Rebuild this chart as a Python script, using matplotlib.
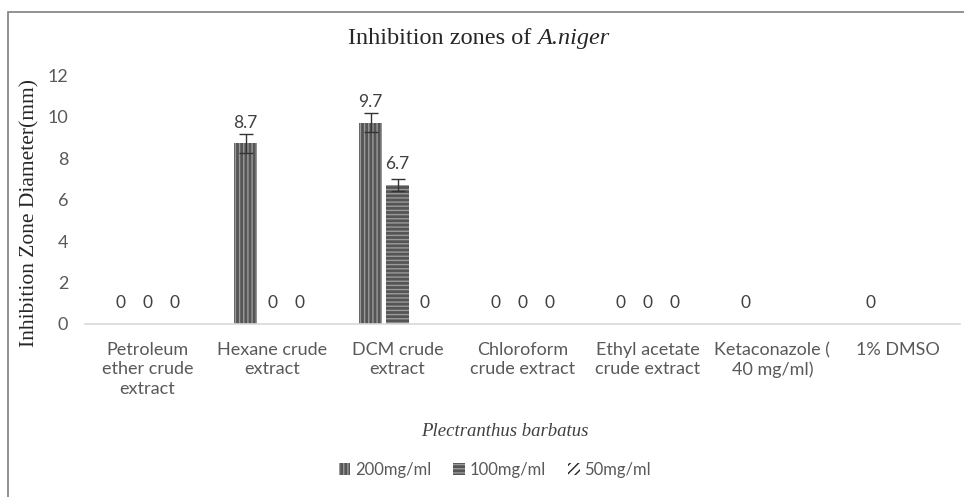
import numpy as np
import matplotlib
matplotlib.use("Agg")
import matplotlib.pyplot as plt
from matplotlib.patches import Rectangle

categories = ["Petroleum\nether crude\nextract", "Hexane crude\nextract", "DCM crude\nextract",
              "Chloroform\ncrude extract", "Ethyl acetate\ncrude extract", "Ketaconazole (\n40 mg/ml)",
              "1% DMSO"]
series_names = ["200mg/ml", "100mg/ml", "50mg/ml"]
v200 = [0, 8.7, 9.7, 0, 0, 0, 0]
v100 = [0, 0, 6.7, 0, 0, np.nan, np.nan]
v50 = [0, 0, 0, 0, 0, np.nan, np.nan]
e200 = [0, 0.45, 0.45, 0, 0, 0, 0]
e100 = [0, 0, 0.3, 0, 0, 0, 0]
e50 = [0, 0, 0, 0, 0, 0, 0]
yticks = [0, 2, 4, 6, 8, 10, 12]

W, H = 964, 497
fig = plt.figure(figsize=(W / 100, H / 100), dpi=100)
ax = fig.add_axes([85 / W, 1 - 324 / H, (960 - 85) / W, (324 - 75) / H])

# outer frame
fig.patches.append(Rectangle((8 / W, -0.1), 1.2, 1 - 12 / H + 0.1, transform=fig.transFigure,
                             fill=False, edgecolor="#7f7f7f", linewidth=1.2))

x = np.arange(len(categories))
step = 0.216
width = 0.186
styles = [
    dict(facecolor="#555555", edgecolor="#9a9a9a", hatch="||||"),
    dict(facecolor="#555555", edgecolor="#9a9a9a", hatch="----"),
    dict(facecolor="white", edgecolor="#222222", hatch="////"),
]
vals = [v200, v100, v50]
errs = [e200, e100, e50]
handles = []
for i, (v, e, st) in enumerate(zip(vals, errs, styles)):
    pos = x + (i - 1) * step
    arr = np.array(v, dtype=float)
    b = ax.bar(pos, np.nan_to_num(arr), width, linewidth=0, **st)
    handles.append(b)
    for p, val, err in zip(pos, arr, e):
        if np.isnan(val):
            continue
        if val > 0:
            ax.errorbar(p, val, yerr=err, fmt="none", ecolor="#333333", elinewidth=1, capsize=5, capthick=1)
        ax.text(p, val + 1.0, f"{val:g}" if val == 0 else f"{val:.1f}", ha="center", va="center",
                fontsize=12.5, color="#404040", family="Lato")

ax.set_xlim(-0.5, len(categories) - 0.5)
ax.set_ylim(0, 12)
ax.set_yticks(yticks)
ax.set_xticks(x)
ax.set_xticklabels(categories, fontsize=13, color="#595959", family="Lato", linespacing=1.25)
ax.tick_params(axis="y", labelsize=13, labelcolor="#595959", length=0, pad=12)
ax.tick_params(axis="x", length=0, pad=13)
for lab in ax.get_yticklabels():
    lab.set_family("Lato")
for s in ["top", "right", "left"]:
    ax.spines[s].set_visible(False)
ax.spines["bottom"].set_color("#d9d9d9")
ax.spines["bottom"].set_linewidth(1.2)

t1 = fig.text(537 / W, 1 - 44 / H, "Inhibition zones of ", ha="right", va="baseline",
              fontsize=17.5, family="Liberation Serif", color="#262626")
ax.annotate("A.niger", xy=(1, 0), xycoords=t1, ha="left", va="bottom", annotation_clip=False,
            fontsize=17.5, family="Liberation Serif", style="italic", color="#262626")
fig.text(30 / W, 1 - 213 / H, "Inhibition Zone Diameter(mm)", ha="center", va="center", rotation=90,
         fontsize=15.5, family="Liberation Serif", color="#262626")
fig.text(505 / W, 1 - 431 / H, "Plectranthus barbatus", ha="center", va="center", style="italic",
         fontsize=13.5, family="Liberation Serif", color="#404040")

leg = fig.legend(handles, series_names, loc="center", bbox_to_anchor=(495 / W, 1 - 470 / H), ncol=3,
                 frameon=False, handlelength=0.7, handleheight=0.7, handletextpad=0.3, columnspacing=1.3,
                 prop={"family": "Lato", "size": 12})
for t in leg.get_texts():
    t.set_color("#595959")

fig.savefig("out.png", dpi=100)
